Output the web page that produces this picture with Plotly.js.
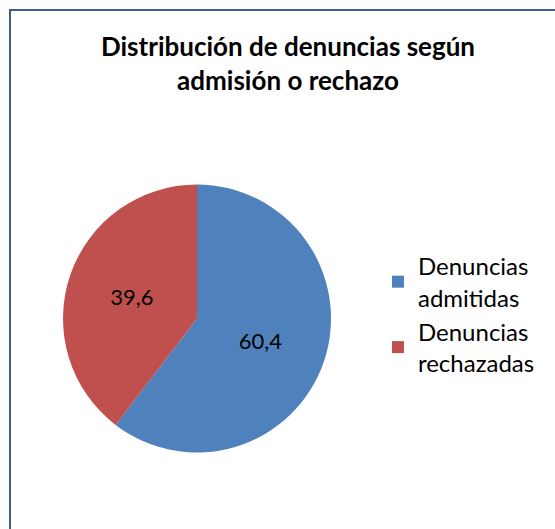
<!DOCTYPE html>
<html>
<head>
<meta charset="utf-8">
<script src="https://cdn.plot.ly/plotly-3.0.1.min.js"></script>
<style>html,body{margin:0;padding:0;background:#fff;}#chart{width:555px;height:529px;}</style>
</head>
<body>
<div id="chart"></div>
<script>
const categories = ["Denuncias<br>admitidas", "Denuncias<br>rechazadas"];
const values = [60.4, 39.6];
const colors = ["#4F81BD", "#C0504D"];
const titleText = "Distribución de denuncias según<br>admisión o rechazo";

const W = 555, H = 529;
const data = [{
  type: "pie",
  labels: categories,
  values: values,
  sort: false,
  direction: "clockwise",
  rotation: 0,
  marker: {colors: colors, line: {width: 0}},
  textinfo: "value",
  texttemplate: "%{value:.1f}",
  textposition: "inside",
  insidetextorientation: "horizontal",
  textfont: {family: "Lato, 'Open Sans', sans-serif", size: 22, color: "#000"},
  domain: {x: [63/W, 331/W], y: [1 - 453/H, 1 - 184/H]},
  hoverinfo: "none"
}];
const layout = {
  width: W, height: H,
  margin: {l: 0, r: 0, t: 0, b: 0},
  separators: ",.",
  paper_bgcolor: "#fff",
  showlegend: true,
  title: {
    text: titleText,
    font: {family: "Lato, sans-serif", size: 26, color: "#000", weight: "bold"},
    x: 288/W, xanchor: "center",
    y: 1 - 56/H, yanchor: "top",
    xref: "paper", yref: "container"
  },
  legend: {
    x: 0.681, xanchor: "left",
    y: 1 - 244/H, yanchor: "top",
    font: {family: "Lato, sans-serif", size: 24, color: "#000"},
    itemsizing: "constant",
    bgcolor: "rgba(0,0,0,0)"
  },
  shapes: [{
    type: "rect", xref: "paper", yref: "paper",
    x0: 10/W, x1: 1.02, y0: -0.02, y1: 1 - 10/H,
    line: {color: "#3B5E8C", width: 2}, fillcolor: "rgba(0,0,0,0)"
  }]
};
Plotly.newPlot("chart", data, layout, {displayModeBar: false, staticPlot: true});
</script>
</body>
</html>
